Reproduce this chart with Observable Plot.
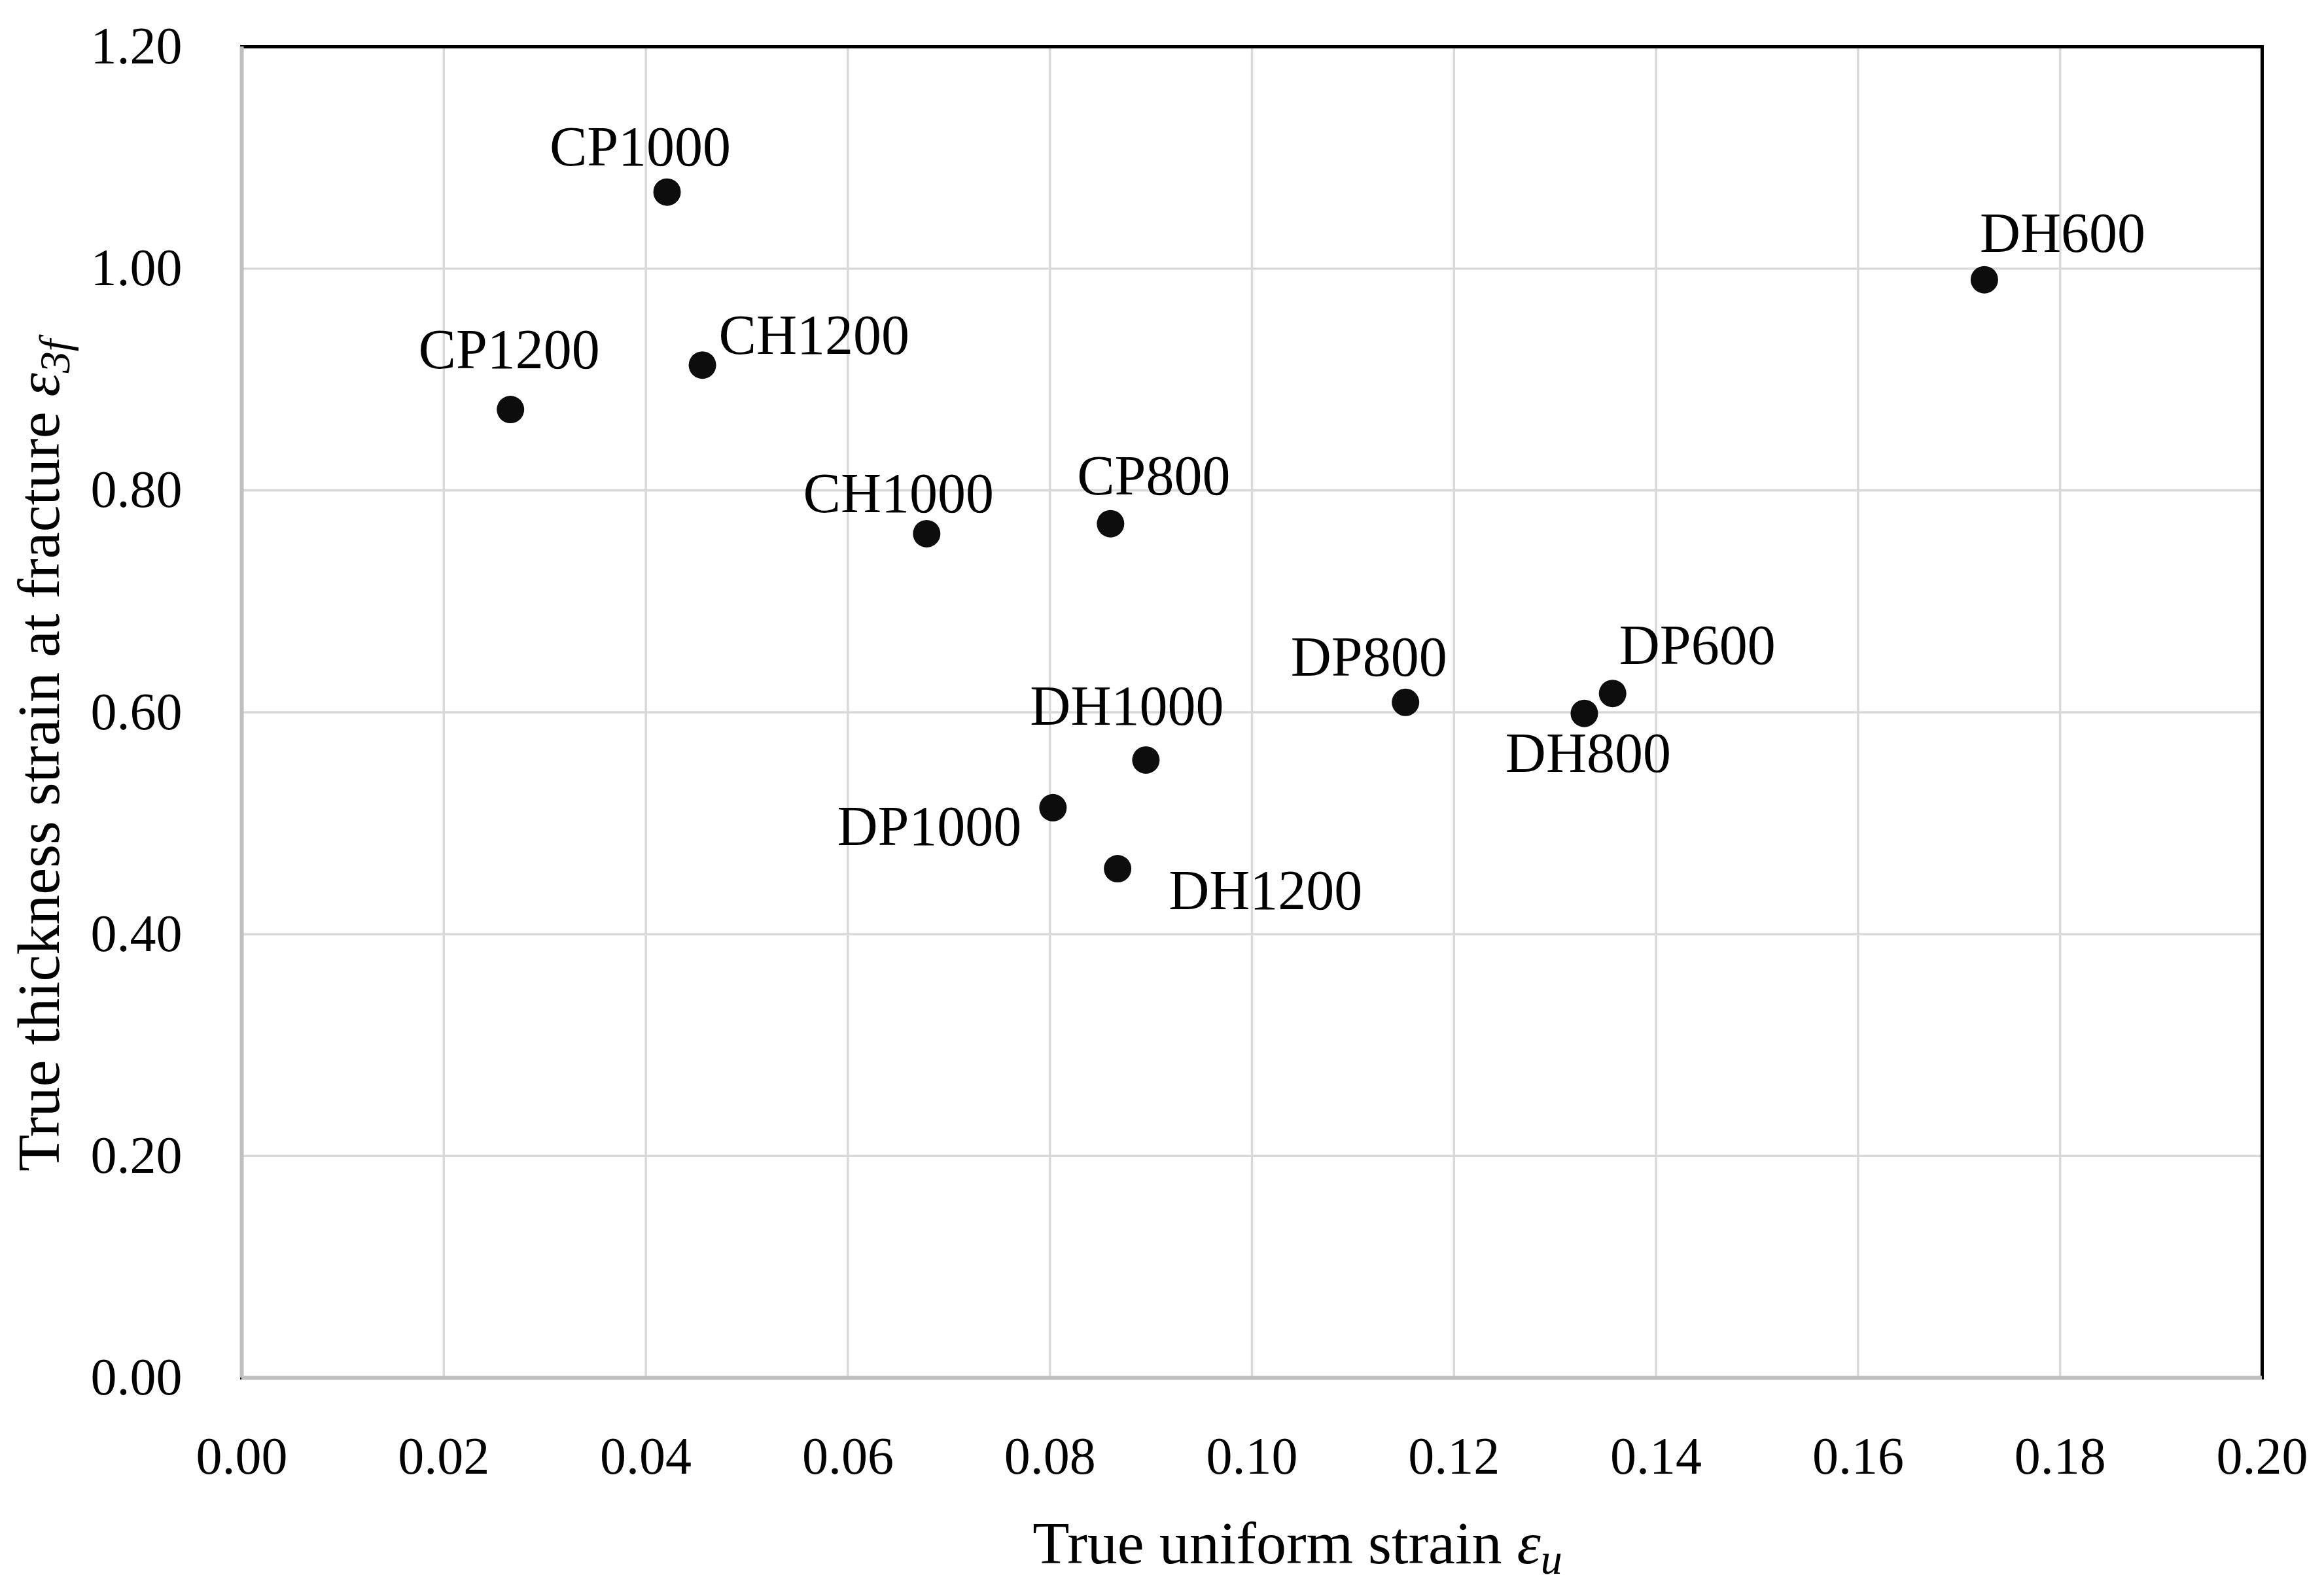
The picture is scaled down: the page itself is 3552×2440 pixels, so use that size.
<!DOCTYPE html>
<html>
<head>
<meta charset="utf-8">
<script src="https://cdn.jsdelivr.net/npm/d3@7"></script>
<script src="https://cdn.jsdelivr.net/npm/@observablehq/plot@0.6"></script>
<style>
  html, body { margin: 0; padding: 0; background: #fff; }
  #chart { width: 3552px; }
</style>
</head>
<body>
<div id="chart"></div>
<script>
// ---- Data ----
const grades = ["CP1000", "DH600", "CP1200", "CH1200", "CH1000", "CP800",
                "DP800", "DP600", "DH800", "DH1000", "DP1000", "DH1200"];
const uniformStrain = [0.0421, 0.1725, 0.0266, 0.0456, 0.0678, 0.0860,
                       0.1152, 0.1357, 0.1329, 0.0895, 0.0803, 0.0867];
const fractureStrain = [1.069, 0.990, 0.873, 0.913, 0.761, 0.770,
                        0.609, 0.617, 0.599, 0.557, 0.514, 0.459];
const xTicks = [0, 0.02, 0.04, 0.06, 0.08, 0.10, 0.12, 0.14, 0.16, 0.18, 0.20];
const yTicks = [0, 0.2, 0.4, 0.6, 0.8, 1.0, 1.2];
const xTitle = "True uniform strain ";
const yTitle = "True thickness strain at fracture ";

// ---- Label placement (pixel offsets from each point, as in the reference) ----
const labelPlacement = {
  CP1000: {dx: -41, dy: -68, anchor: "middle"},
  DH600:  {dx: -7,  dy: -70, anchor: "start"},
  CP1200: {dx: -2,  dy: -91, anchor: "middle"},
  CH1200: {dx: 25,  dy: -45, anchor: "start"},
  CH1000: {dx: -43, dy: -61, anchor: "middle"},
  CP800:  {dx: 66,  dy: -72, anchor: "middle"},
  DP800:  {dx: -56, dy: -68, anchor: "middle"},
  DP600:  {dx: 10,  dy: -73, anchor: "start"},
  DH800:  {dx: 6,   dy: 62,  anchor: "middle"},
  DH1000: {dx: -29, dy: -81, anchor: "middle"},
  DP1000: {dx: -48, dy: 30,  anchor: "end"},
  DH1200: {dx: 78,  dy: 34,  anchor: "start"}
};

const data = grades.map((g, i) => ({grade: g, eu: uniformStrain[i], e3f: fractureStrain[i]}));

const FONT = "'Liberation Serif', 'Times New Roman', serif";

const labelMarks = data.map(d => {
  const o = labelPlacement[d.grade];
  return Plot.text([d], {
    x: "eu", y: "e3f", text: "grade",
    dx: o.dx, dy: o.dy, textAnchor: o.anchor,
    fontSize: 86, fill: "#000"
  });
});

const chart = Plot.plot({
  width: 3552,
  height: 2440,
  marginLeft: 369,
  marginRight: 95,
  marginTop: 71,
  marginBottom: 334,
  style: {fontFamily: FONT, fontSize: "80px", background: "#fff", color: "#000"},
  x: {domain: [0, 0.2], label: null},
  y: {domain: [0, 1.2], label: null},
  marks: [
    Plot.gridX(xTicks, {stroke: "#d9d9d9", strokeOpacity: 1, strokeWidth: 3.5}),
    Plot.gridY(yTicks, {stroke: "#d9d9d9", strokeOpacity: 1, strokeWidth: 3.5}),
    Plot.frame({stroke: "#000", strokeWidth: 5}),
    Plot.ruleX([0], {stroke: "#bfbfbf", strokeWidth: 6}),
    Plot.ruleY([0], {stroke: "#bfbfbf", strokeWidth: 6}),
    Plot.axisX(xTicks, {tickSize: 0, tickPadding: 90, tickFormat: d3.format(".2f"), fontSize: 80, label: null}),
    Plot.axisY(yTicks, {tickSize: 0, tickPadding: 91, tickFormat: d3.format(".2f"), fontSize: 80, label: null}),
    Plot.dot(data, {x: "eu", y: "e3f", r: 21, fill: "#0d0d0d", stroke: "none"}),
    ...labelMarks
  ]
});

document.getElementById("chart").appendChild(chart);

// ---- Axis titles with italic math symbols ----
const svg = d3.select(chart);

const xt = svg.append("text")
  .attr("x", 1983).attr("y", 2390)
  .attr("text-anchor", "middle")
  .attr("font-family", FONT).attr("font-size", 92).attr("fill", "#000");
xt.append("tspan").text(xTitle);
xt.append("tspan").attr("font-style", "italic").text("\u03B5");
xt.append("tspan").attr("font-style", "italic").attr("font-size", 66).attr("dy", 16).text("u");

const yt = svg.append("text")
  .attr("transform", "translate(90,1155) rotate(-90)")
  .attr("text-anchor", "middle")
  .attr("font-family", FONT).attr("font-size", 92).attr("fill", "#000");
yt.append("tspan").text(yTitle);
yt.append("tspan").attr("font-style", "italic").text("\u03B5");
yt.append("tspan").attr("font-style", "italic").attr("font-size", 66).attr("dy", 16).text("3f");
</script>
</body>
</html>
